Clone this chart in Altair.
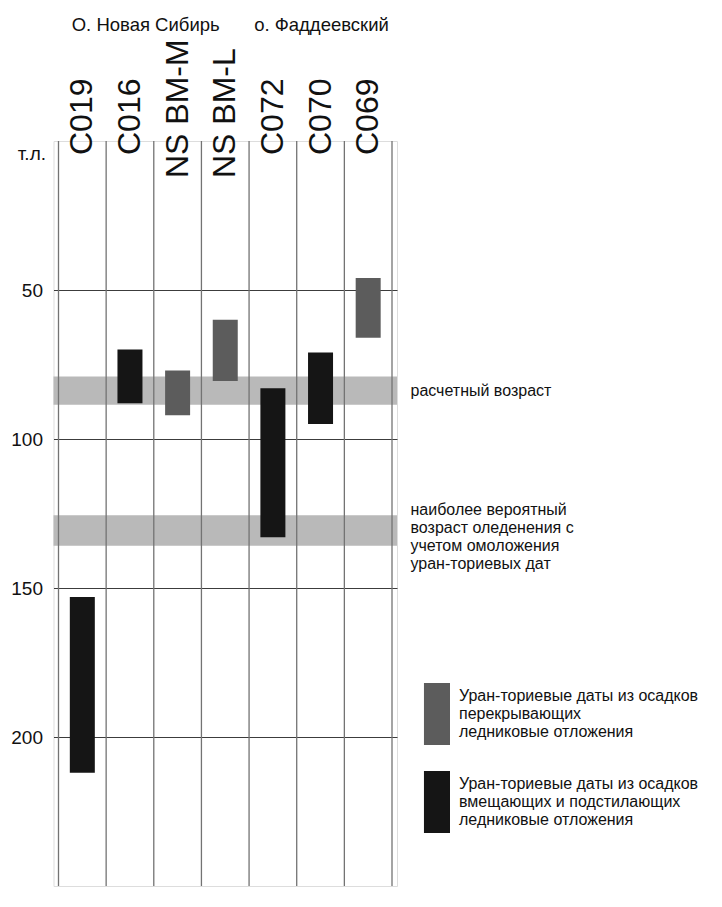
import altair as alt
import pandas as pd

# ---- data ----
samples = ["C019", "C016", "NS BM-M", "NS BM-L", "C072", "C070", "C069"]
age_from = [153, 70, 77, 60, 83, 71, 46]
age_to = [212, 88, 92, 80.5, 133, 95, 66]
date_kind = ["under", "under", "over", "over", "under", "under", "over"]
kind_text = {
    "over": "Уран-ториевые даты из осадков|перекрывающих|ледниковые отложения",
    "under": "Уран-ториевые даты из осадков|вмещающих и подстилающих|ледниковые отложения",
}
band_from = [79, 125.6]
band_to = [88.5, 135.8]
band_text = [
    "расчетный возраст",
    "наиболее вероятный\nвозраст оледенения с\nучетом омоложения\nуран-ториевых дат",
]
island_names = ["О. Новая Сибирь", "о. Фаддеевский"]
island_pos = [1.83, 5.52]   # header centres, in column units
y_ticks = [50, 100, 150, 200]
y_max = 250
y_title = "т.л."

FONT = "Liberation Sans"
W = 343.5
H = 745
n = len(samples)

bars = pd.DataFrame({
    "sample": samples,
    "center": [i + 0.5 for i in range(n)],
    "lo": age_from,
    "hi": age_to,
    "kind": [kind_text[k] for k in date_kind],
    "long": [s.startswith("NS") for s in samples],
})
bands = pd.DataFrame({"lo": band_from, "hi": band_to, "text": band_text})
bands["mid"] = (bands["lo"] + bands["hi"]) / 2
bands["idx"] = range(len(bands))
bounds = pd.DataFrame({"b": list(range(n + 1)), "top": 0, "bottom": y_max})
islands = pd.DataFrame({"name": island_names, "center": island_pos})

xscale = alt.Scale(domain=[0, n], nice=False, zero=False)
yscale = alt.Scale(domain=[0, y_max], reverse=True, nice=False)
yaxis = alt.Axis(
    values=y_ticks, grid=True, gridColor="#3c3c3c", gridWidth=1,
    ticks=False, domain=False, labelFontSize=19, labelPadding=11,
    labelColor="#111", labelFont=FONT,
    title=y_title, titleAngle=0, titleAlign="right", titleBaseline="middle",
    titleX=-8, titleY=12, titleFontSize=19, titleFontWeight="normal",
    titleFont=FONT, titleColor="#111",
)

band_layer = alt.Chart(bands).mark_rect(color="#b9b9b9").encode(
    y=alt.Y("lo:Q", scale=yscale, axis=yaxis),
    y2="hi:Q",
    x=alt.value(0),
    x2=alt.value(W),
)

rule_layer = alt.Chart(bounds).mark_rule(color="#737373", strokeWidth=1.3).encode(
    x=alt.X("b:Q", scale=xscale, axis=None),
    y=alt.Y("top:Q", scale=yscale, axis=yaxis),
    y2="bottom:Q",
)

bar_layer = alt.Chart(bars).mark_bar(width=25, orient="vertical", opacity=1).encode(
    x=alt.X("center:Q", scale=xscale, axis=None),
    y=alt.Y("lo:Q", scale=yscale, axis=yaxis),
    y2="hi:Q",
    color=alt.Color(
        "kind:N",
        scale=alt.Scale(domain=[kind_text["over"], kind_text["under"]],
                        range=["#5c5c5c", "#151515"]),
        legend=alt.Legend(
            title=None, orient="none", legendX=334.5, legendY=524,
            symbolType="M0.16,-0.42H1V1.58H0.16Z", symbolSize=3844,
            symbolStrokeWidth=0, symbolOpacity=1,
            labelExpr="split(datum.label, '|')", labelFontSize=16,
            labelFont=FONT, labelColor="#111", labelOffset=9, labelLimit=600,
            labelBaseline="middle", rowPadding=8, padding=0,
        ),
    ),
)

short_labels = alt.Chart(bars).transform_filter("!datum.long").mark_text(
    angle=270, align="left", baseline="middle", fontSize=32, font=FONT, color="#111"
).encode(
    x=alt.X("center:Q", scale=xscale, axis=None),
    y=alt.value(14),
    text="sample:N",
)
long_labels = alt.Chart(bars).transform_filter("datum.long").mark_text(
    angle=270, align="left", baseline="middle", fontSize=32, font=FONT, color="#111"
).encode(
    x=alt.X("center:Q", scale=xscale, axis=None),
    y=alt.value(37),
    text="sample:N",
)

island_layer = alt.Chart(islands).mark_text(
    align="center", baseline="middle", fontSize=18.5, font=FONT, color="#111"
).encode(
    x=alt.X("center:Q", scale=xscale, axis=None),
    y=alt.value(-116),
    text="name:N",
)

ann1 = alt.Chart(bands).transform_filter("datum.idx == 0").mark_text(
    align="left", baseline="middle", fontSize=16, font=FONT, color="#111",
    lineBreak="\n", lineHeight=18,
).encode(
    x=alt.value(W + 13.5),
    y=alt.Y("mid:Q", scale=yscale, axis=yaxis),
    text="text:N",
)
ann2 = alt.Chart(bands).transform_filter("datum.idx == 1").mark_text(
    align="left", baseline="middle", fontSize=16, font=FONT, color="#111",
    lineBreak="\n", lineHeight=18, dy=-20,
).encode(
    x=alt.value(W + 13.5),
    y=alt.Y("mid:Q", scale=yscale, axis=yaxis),
    text="text:N",
)

chart = alt.layer(
    band_layer, rule_layer, bar_layer, short_labels, long_labels,
    island_layer, ann1, ann2,
).properties(
    width=W, height=H,
    autosize=alt.AutoSizeParams(type="none"),
    padding={"left": 45.5, "top": 133, "right": 317, "bottom": 13},
).configure_view(stroke=None).configure(font=FONT)

chart.save("out.html", embed_options={"renderer": "svg", "actions": False})
